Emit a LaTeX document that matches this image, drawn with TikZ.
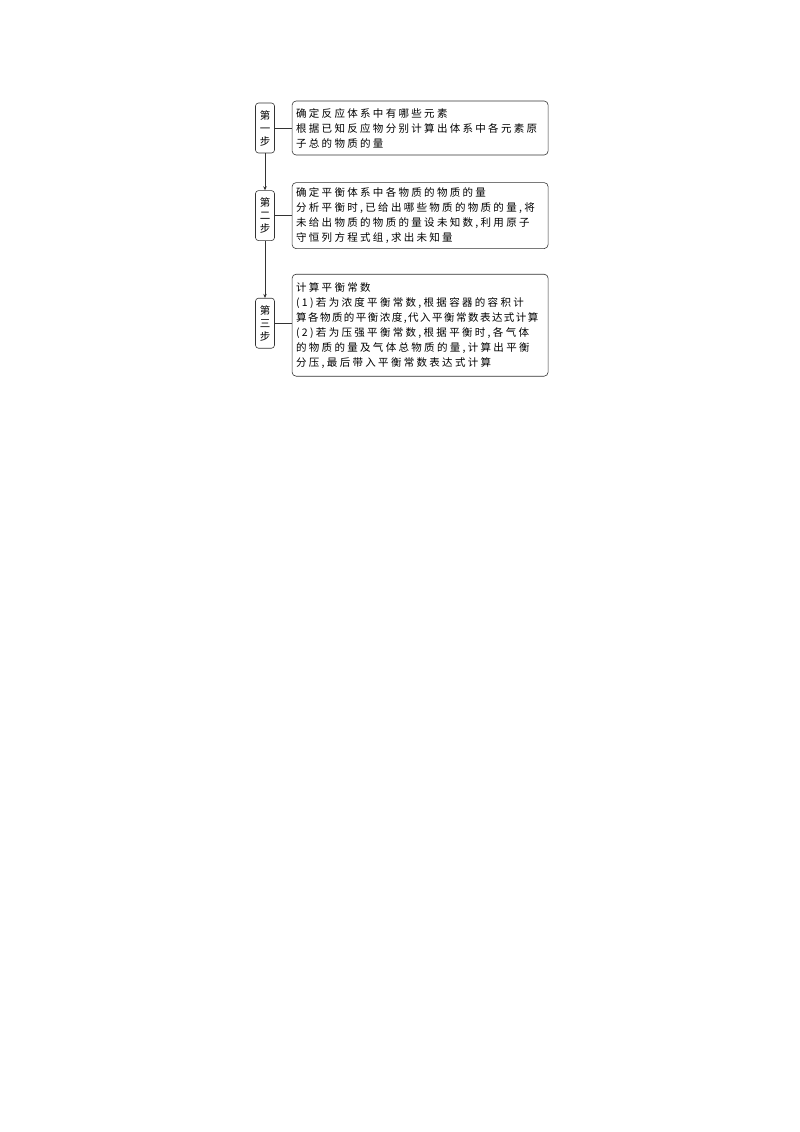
\documentclass[tikz,border=0pt]{standalone}
\usepackage{fontspec}
\newfontfamily\cjk[LetterSpace=22]{Noto Sans CJK SC}
\usetikzlibrary{positioning,arrows.meta}
\begin{document}
\begin{tikzpicture}[x=1pt, y=1pt, ->, >={Stealth[length=4pt,width=3.5pt]}, node distance=17pt,
    step node/.style={draw=black!80, line width=0.6pt, rounded corners=3pt, font=\cjk\fontsize{10.5}{13}\selectfont, align=center, text width=11pt, inner sep=4pt, minimum height=50pt},
    text node/.style={draw=black!80, line width=0.6pt, rounded corners=4pt, font=\cjk\fontsize{10.5}{15}\selectfont, align=left, text width=248pt, inner sep=4pt}]
        \useasboundingbox (0,0) rectangle (800,-1132);

          \node[step node] (1) at (265,-128) {第\\一\\步};
          \node[step node] (2) [below=37pt of 1] {第\\二\\步};
          \node[step node] (3) [below=57pt of 2] {第\\三\\步};

          \node[text node, minimum height=54pt] (4) [right=of 1] {确定反应体系中有哪些元素\\根据已知反应物分别计算出体系中各元素原\\子总的物质的量};
          \node[text node, minimum height=66pt] (5) [right=of 2] {确定平衡体系中各物质的物质的量\\分析平衡时,已给出哪些物质的物质的量,将\\未给出物质的物质的量设未知数,利用原子\\守恒列方程式组,求出未知量};
          \node[text node, minimum height=102pt] (6) [right=of 3, yshift=-2pt] {计算平衡常数\\(1)若为浓度平衡常数,根据容器的容积计\\{\addfontfeature{LetterSpace=14}算各物质的平衡浓度,代入平衡常数表达式计算}\\(2)若为压强平衡常数,根据平衡时,各气体\\的物质的量及气体总物质的量,计算出平衡\\分压,最后带入平衡常数表达式计算};

          \path[draw=black!80, line width=0.6pt]
            (1) edge (2)
            (2) edge (3)
            (1) edge[-] (4)
            (2) edge[-] (5)
            (3) edge[-] (3 -| 6.west);

\end{tikzpicture}
\end{document}
